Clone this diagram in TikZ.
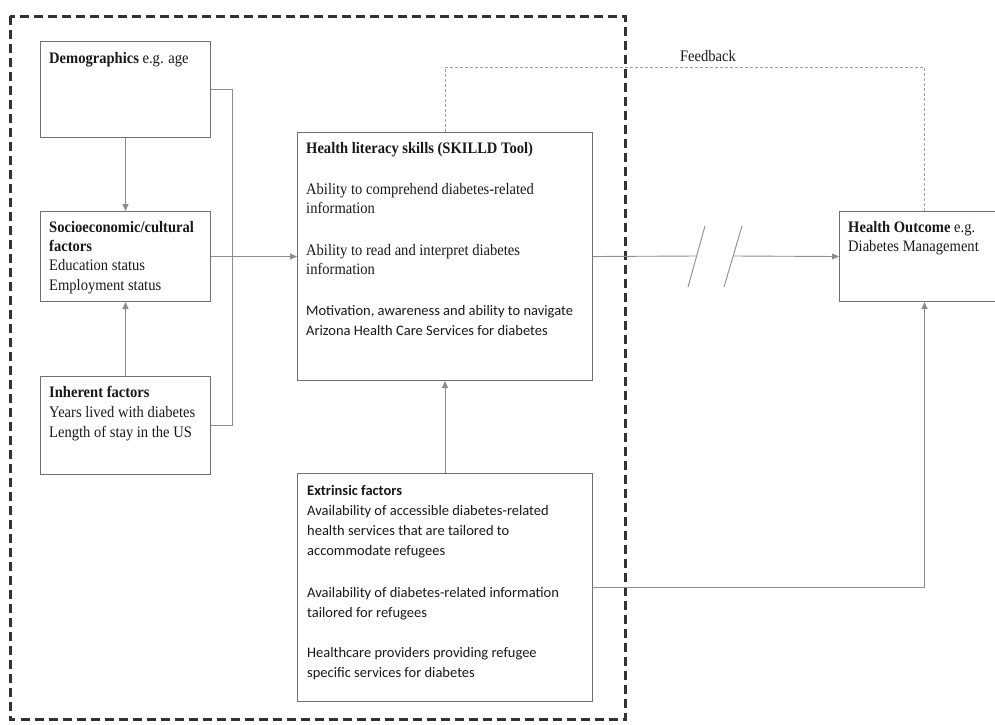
\documentclass[tikz,border=0pt]{standalone}
\usepackage{fontspec}
\setmainfont{Liberation Serif}[FakeStretch=0.91]
\newfontfamily\calib{Carlito}
\usetikzlibrary{arrows.meta}
\definecolor{boxgray}{RGB}{112,112,112}
\definecolor{linegray}{RGB}{140,140,140}
\definecolor{fbgray}{RGB}{160,160,160}
\definecolor{outer}{RGB}{50,50,50}
\definecolor{ink}{RGB}{25,25,25}
\newcommand\lead{\rule{0pt}{12pt}}
\tikzset{
  boxnode/.style={draw=boxgray, line width=1pt, inner sep=0pt, anchor=north west, fill=white},
  serif/.style={anchor=north west, inner sep=0pt, align=left, text=ink, font=\fontsize{16}{19.3}\selectfont},
  sans/.style={anchor=north west, inner sep=0pt, align=left, text=ink, font=\calib\fontsize{14.5}{20}\selectfont},
  conn/.style={draw=linegray, line width=0.9pt},
  arr/.style={-{Triangle[length=7pt,width=6pt,fill=linegray]}},
  fb/.style={draw=fbgray, line width=0.8pt, dash pattern=on 3pt off 2pt},
  outerbox/.style={draw=outer, line width=3pt, dash pattern=on 9pt off 5pt}
}
\begin{document}
\begin{tikzpicture}[x=1pt,y=-1pt]
\useasboundingbox (0,0) rectangle (995,724);
\clip (0,0) rectangle (995,724);

% outer dashed frame
\draw[outerbox] (10,16) rectangle (625,719.5);

% boxes
\node[boxnode, minimum width=170pt, minimum height=96pt] (demo) at (40,41) {};
\node[boxnode, minimum width=170pt, minimum height=90pt] (socio) at (40,211) {};
\node[boxnode, minimum width=170pt, minimum height=98pt] (inh) at (40,376) {};
\node[boxnode, minimum width=295pt, minimum height=248pt] (hl) at (297,132) {};
\node[boxnode, minimum width=295pt, minimum height=228pt] (ext) at (297,473) {};
\node[boxnode, minimum width=170pt, minimum height=90pt] (out) at (839,211) {};

% texts
\node[serif] (tdemo) at (49,51) {\lead\textbf{Demographics} e.g. age};
\node[serif] (tsocio) at (49,220) {\lead\textbf{Socioeconomic/cultural}\\\textbf{factors}\\Education status\\Employment status};
\node[serif, font=\fontsize{16}{20}\selectfont] (tinh) at (49,385) {\lead\textbf{Inherent factors}\\Years lived with diabetes\\Length of stay in the US};

\node[serif] (thl0) at (306,141) {\lead\textbf{Health literacy skills (SKILLD Tool)}};
\node[serif] (thl1) at (306,182) {\lead Ability to comprehend diabetes-related\\information};
\node[serif] (thl2) at (306,243) {\lead Ability to read and interpret diabetes\\information};
\node[sans] (thl3) at (306,303) {\lead Motivation, awareness and ability to navigate\\Arizona Health Care Services for diabetes};

\node[sans] (text1) at (307,483) {\lead\textbf{Extrinsic factors}\\Availability of accessible diabetes-related\\health services that are tailored to\\accommodate refugees};
\node[sans] (text2) at (307,585) {\lead Availability of diabetes-related information\\tailored for refugees};
\node[sans] (text3) at (307,645) {\lead Healthcare providers providing refugee\\specific services for diabetes};

\node[serif] (tout) at (848,220) {\lead\textbf{Health Outcome} e.g.\\Diabetes Management};

\node[anchor=base, inner sep=0pt, text=ink, font=\fontsize{16}{19}\selectfont] (fbl) at (708,61) {Feedback};

% connectors
\coordinate (brk) at (232,0);
\draw[conn] (demo.east) -- (demo.east -| brk) -- (inh.east -| brk) -- (inh.east);
\draw[conn, arr] (demo.south) -- (socio.north);
\draw[conn, arr] (inh.north) -- (socio.south);
\draw[conn, arr] (socio.east) -- (hl.west);
\draw[conn, arr] (ext.north) -- (hl.south);

\coordinate (b1) at (697,256);
\coordinate (b2) at (734,256);
\draw[conn] (hl.east) -- (b1);
\draw[conn, arr] (b2) -- (out.west);
\draw[conn] (688,287) -- (705,226);
\draw[conn] (724,287) -- (742,226);

\coordinate (fby) at (0,67);
\draw[fb] (hl.north) -- (hl.north |- fby) -- (out.north |- fby) -- (out.north);

\draw[conn, arr] (ext.east) -| (out.south);
\end{tikzpicture}
\end{document}
